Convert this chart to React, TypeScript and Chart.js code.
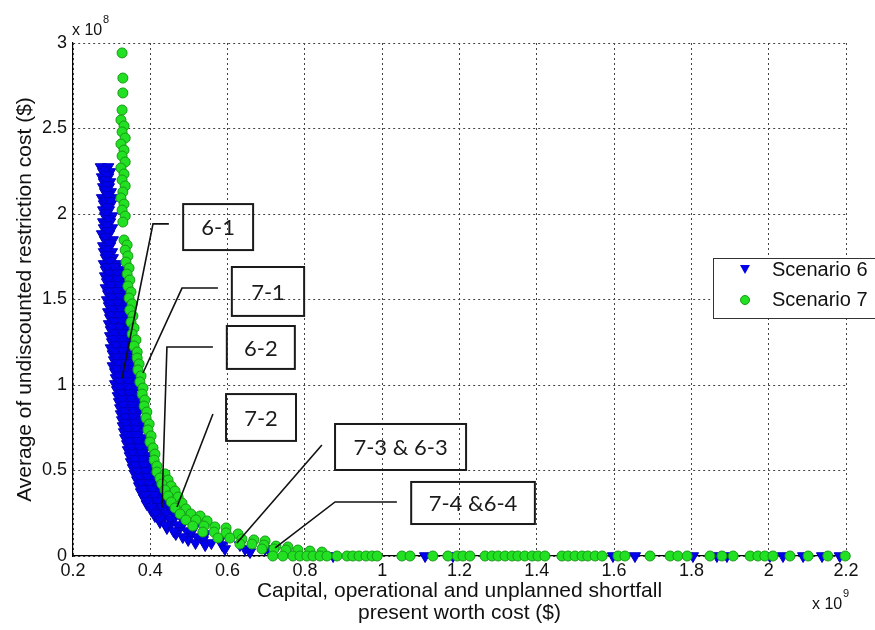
import React, { useEffect, useRef } from 'react';
import { Chart, registerables } from 'chart.js';

Chart.register(...registerables);

// Axis ticks (x in units of 1e9 $, y in units of 1e8 $)
const xTickValues = [0.2, 0.4, 0.6, 0.8, 1, 1.2, 1.4, 1.6, 1.8, 2, 2.2];
const yTickValues = [0, 0.5, 1, 1.5, 2, 2.5, 3];

// Scenario 6 – trade-off curve points [x, y]
const scenario6Curve: [number, number][] = [
  [0.272, 2.275], [0.291, 2.275], [0.278, 2.246], [0.296, 2.246], [0.275, 2.216], [0.291, 2.216],
  [0.28, 2.187], [0.296, 2.187], [0.278, 2.158], [0.293, 2.158], [0.283, 2.129], [0.298, 2.129],
  [0.275, 2.094], [0.291, 2.094], [0.301, 2.094], [0.28, 2.058], [0.298, 2.058], [0.278, 2.023],
  [0.293, 2.023], [0.283, 1.988], [0.301, 1.988], [0.278, 1.953], [0.296, 1.953], [0.28, 1.918],
  [0.301, 1.918], [0.275, 1.883], [0.293, 1.883], [0.283, 1.848], [0.303, 1.848], [0.278, 1.813],
  [0.296, 1.813], [0.28, 1.778], [0.301, 1.778], [0.285, 1.743], [0.303, 1.743],
  [0.28, 1.708], [0.298, 1.708], [0.316, 1.708], [0.285, 1.673], [0.306, 1.673], [0.324, 1.673],
  [0.283, 1.637], [0.301, 1.637], [0.327, 1.637], [0.288, 1.602], [0.309, 1.602], [0.329, 1.602],
  [0.285, 1.567], [0.303, 1.567], [0.324, 1.567], [0.291, 1.532], [0.311, 1.532], [0.332, 1.532],
  [0.288, 1.497], [0.306, 1.497], [0.327, 1.497], [0.293, 1.462], [0.314, 1.462], [0.332, 1.462],
  [0.291, 1.427], [0.309, 1.427], [0.329, 1.427], [0.296, 1.392], [0.316, 1.392], [0.335, 1.392],
  [0.293, 1.357], [0.311, 1.357], [0.332, 1.357], [0.298, 1.322], [0.319, 1.322], [0.337, 1.322],
  [0.296, 1.287], [0.316, 1.287], [0.34, 1.287], [0.301, 1.251], [0.322, 1.251], [0.342, 1.251],
  [0.298, 1.216], [0.319, 1.216], [0.34, 1.216], [0.303, 1.181], [0.324, 1.181], [0.345, 1.181],
  [0.306, 1.146], [0.327, 1.146], [0.347, 1.146], [0.303, 1.111], [0.324, 1.111], [0.347, 1.111],
  [0.309, 1.076], [0.329, 1.076], [0.35, 1.076], [0.311, 1.041], [0.332, 1.041], [0.353, 1.041],
  [0.309, 1.006], [0.332, 1.006], [0.355, 1.006], [0.314, 0.971], [0.337, 0.971], [0.358, 0.971],
  [0.316, 0.936], [0.34, 0.936], [0.36, 0.936], [0.319, 0.901], [0.342, 0.901], [0.366, 0.901],
  [0.322, 0.865], [0.345, 0.865], [0.368, 0.865], [0.324, 0.83], [0.347, 0.83], [0.366, 0.83],
  [0.327, 0.795], [0.35, 0.795], [0.371, 0.795], [0.329, 0.76], [0.353, 0.76], [0.373, 0.76],
  [0.332, 0.725], [0.355, 0.725], [0.373, 0.725], [0.335, 0.69], [0.358, 0.69], [0.379, 0.69],
  [0.34, 0.655], [0.363, 0.655], [0.381, 0.655], [0.342, 0.62], [0.366, 0.62], [0.386, 0.62],
  [0.347, 0.585], [0.371, 0.585], [0.389, 0.585], [0.35, 0.55], [0.373, 0.55], [0.394, 0.55],
  [0.355, 0.515], [0.379, 0.515], [0.397, 0.515], [0.36, 0.48], [0.384, 0.48], [0.402, 0.48],
  [0.366, 0.444], [0.389, 0.444], [0.407, 0.444], [0.371, 0.409], [0.394, 0.409], [0.415, 0.409],
  [0.376, 0.374], [0.399, 0.374], [0.422, 0.374], [0.384, 0.339], [0.407, 0.339], [0.43, 0.339],
  [0.391, 0.304], [0.417, 0.304], [0.443, 0.304], [0.402, 0.269], [0.427, 0.269], [0.456, 0.269],
  [0.412, 0.234], [0.438, 0.234], [0.464, 0.234],
  [0.425, 0.199], [0.456, 0.199], [0.487, 0.199],
  [0.443, 0.164], [0.477, 0.164], [0.513, 0.164],
  [0.466, 0.129], [0.503, 0.129], [0.542, 0.129],
  [0.498, 0.094], [0.536, 0.094], [0.58, 0.094],
  [0.542, 0.064], [0.586, 0.064], [0.632, 0.064],
  [0.593, 0.041], [0.645, 0.041], [0.697, 0.041],
  [0.658, 0.023], [0.71, 0.023],
];
// Scenario 6 – further solutions inside the dense band [x, y]
const scenario6Band: [number, number][] = [
  [0.283, 2.257], [0.287, 2.228], [0.285, 2.199], [0.288, 2.17], [0.286, 2.14], [0.29, 2.111],
  [0.285, 2.076], [0.296, 2.076], [0.289, 2.041], [0.286, 2.006], [0.292, 1.971], [0.287, 1.936],
  [0.29, 1.901], [0.284, 1.865], [0.293, 1.83], [0.287, 1.795], [0.29, 1.76], [0.294, 1.725],
  [0.289, 1.69], [0.307, 1.69], [0.295, 1.655], [0.315, 1.655], [0.292, 1.62], [0.314, 1.62],
  [0.298, 1.585], [0.319, 1.585], [0.294, 1.55], [0.313, 1.55], [0.301, 1.515], [0.321, 1.515],
  [0.297, 1.48], [0.316, 1.48], [0.303, 1.444], [0.323, 1.444], [0.3, 1.409], [0.319, 1.409],
  [0.306, 1.374], [0.325, 1.374], [0.302, 1.339], [0.321, 1.339], [0.308, 1.304], [0.328, 1.304],
  [0.306, 1.269], [0.328, 1.269], [0.311, 1.234], [0.332, 1.234], [0.308, 1.199], [0.329, 1.199],
  [0.313, 1.164], [0.334, 1.164], [0.316, 1.129], [0.337, 1.129], [0.313, 1.094], [0.335, 1.094],
  [0.319, 1.058], [0.339, 1.058], [0.321, 1.023], [0.342, 1.023], [0.32, 0.988], [0.343, 0.988],
  [0.325, 0.953], [0.347, 0.953], [0.328, 0.918], [0.35, 0.918], [0.33, 0.883], [0.354, 0.883],
  [0.333, 0.848], [0.356, 0.848], [0.335, 0.813], [0.356, 0.813], [0.338, 0.778], [0.36, 0.778],
  [0.341, 0.743], [0.363, 0.743], [0.343, 0.708], [0.364, 0.708], [0.346, 0.673], [0.368, 0.673],
  [0.351, 0.637], [0.372, 0.637], [0.354, 0.602], [0.376, 0.602], [0.359, 0.567], [0.38, 0.567],
  [0.361, 0.532], [0.383, 0.532], [0.367, 0.497], [0.388, 0.497], [0.372, 0.462], [0.393, 0.462],
  [0.377, 0.427], [0.398, 0.427], [0.382, 0.392], [0.404, 0.392], [0.387, 0.357], [0.41, 0.357],
  [0.395, 0.322], [0.418, 0.322], [0.404, 0.287], [0.43, 0.287], [0.414, 0.251], [0.441, 0.251],
  [0.425, 0.216], [0.451, 0.216], [0.44, 0.181], [0.471, 0.181], [0.46, 0.146], [0.495, 0.146],
  [0.484, 0.111], [0.522, 0.111], [0.517, 0.076], [0.558, 0.076],
];
// Scenario 6 – solutions lying on the zero-restriction axis (x values)
const scenario6Axis: number[] = [0.873, 1.111, 1.183, 1.597, 1.654, 1.804, 1.866, 1.892, 2.003, 2.037, 2.089, 2.138, 2.184];

// Scenario 7 – trade-off curve points [x, y]
const scenario7Curve: [number, number][] = [
  [0.327, 2.942], [0.329, 2.795], [0.329, 2.708], [0.327, 2.608],
  [0.324, 2.55], [0.332, 2.515], [0.327, 2.48], [0.335, 2.444], [0.324, 2.409], [0.332, 2.374],
  [0.327, 2.339], [0.335, 2.304], [0.324, 2.269], [0.332, 2.234], [0.327, 2.199], [0.335, 2.164],
  [0.329, 2.129], [0.324, 2.094], [0.332, 2.058], [0.327, 2.023], [0.335, 1.988], [0.329, 1.953],
  [0.332, 1.848], [0.34, 1.819], [0.335, 1.789], [0.342, 1.754], [0.337, 1.719], [0.345, 1.684],
  [0.34, 1.649], [0.347, 1.614], [0.342, 1.579], [0.35, 1.544], [0.345, 1.509], [0.353, 1.474],
  [0.347, 1.439], [0.355, 1.404], [0.35, 1.368], [0.358, 1.333], [0.353, 1.298], [0.363, 1.263],
  [0.358, 1.228], [0.366, 1.193], [0.366, 1.158], [0.371, 1.123], [0.368, 1.088], [0.376, 1.053],
  [0.373, 1.018], [0.381, 0.982], [0.379, 0.947], [0.386, 0.912], [0.384, 0.877], [0.391, 0.842],
  [0.389, 0.807], [0.397, 0.772], [0.394, 0.737], [0.402, 0.702], [0.399, 0.667], [0.407, 0.632],
  [0.412, 0.596], [0.41, 0.561], [0.417, 0.526],
  [0.417, 0.491], [0.438, 0.48], [0.425, 0.456], [0.446, 0.444], [0.43, 0.421], [0.454, 0.409],
  [0.438, 0.386], [0.464, 0.38], [0.446, 0.351], [0.472, 0.345], [0.454, 0.316], [0.482, 0.31],
  [0.464, 0.281], [0.492, 0.275], [0.477, 0.246], [0.505, 0.246], [0.529, 0.234],
  [0.492, 0.211], [0.518, 0.211], [0.547, 0.205],
  [0.51, 0.175], [0.539, 0.175], [0.567, 0.17], [0.596, 0.164],
  [0.536, 0.14], [0.565, 0.14], [0.596, 0.135], [0.627, 0.129],
  [0.575, 0.105], [0.606, 0.105], [0.637, 0.099], [0.668, 0.094], [0.697, 0.088],
  [0.632, 0.07], [0.663, 0.07], [0.694, 0.064], [0.725, 0.058], [0.756, 0.053],
  [0.689, 0.041], [0.72, 0.041], [0.751, 0.035], [0.782, 0.035], [0.813, 0.029], [0.844, 0.023],
];
// Scenario 7 – solutions lying on the zero-restriction axis (x values)
const scenario7Axis: number[] = [
  0.717, 0.743, 0.769, 0.787, 0.805, 0.821, 0.839, 0.857, 0.883, 0.909, 0.924, 0.94, 0.958, 0.974,
  0.987, 1.051, 1.072, 1.131, 1.17, 1.194, 1.209, 1.227, 1.266, 1.284, 1.3, 1.318, 1.336, 1.351,
  1.369, 1.388, 1.403, 1.421, 1.465, 1.481, 1.499, 1.517, 1.532, 1.551, 1.569, 1.61, 1.628, 1.693,
  1.745, 1.765, 1.789, 1.848, 1.879, 1.908, 1.952, 1.972, 1.99, 2.011, 2.055, 2.102, 2.153, 2.198,
];

// Callout labels
const calloutLabels = ['6-1', '7-1', '6-2', '7-2', '7-3 & 6-3', '7-4 &6-4'];
// Callout boxes [xMin, xMax, yMin, yMax] in data units
const calloutBoxes: number[][] = [
  [0.485, 0.666, 1.789, 2.058],
  [0.611, 0.798, 1.404, 1.69],
  [0.598, 0.774, 1.094, 1.345],
  [0.596, 0.777, 0.673, 0.947],
  [0.878, 1.217, 0.503, 0.772],
  [1.075, 1.395, 0.187, 0.433],
];
// Callout leader lines in data units
const calloutLeaders: [number, number][][] = [
  [[0.448, 1.942], [0.407, 1.942], [0.327, 1.041]],
  [[0.575, 1.567], [0.482, 1.567], [0.381, 1.07]],
  [[0.562, 1.222], [0.443, 1.222], [0.43, 0.281]],
  [[0.562, 0.83], [0.469, 0.287]],
  [[0.844, 0.649], [0.624, 0.076]],
  [[1.038, 0.316], [0.878, 0.316], [0.723, 0.047]],
];

const seriesNames = ['Scenario 6', 'Scenario 7'];
const BLUE = '#0000ee';
const BLUE_EDGE = '#0000c0';
const GREEN = '#22e022';
const GREEN_EDGE = '#179a17';

const AXIS_FONT = '"Liberation Sans", Arial, sans-serif';

const fmt = (v: number) => String(+Number(v).toFixed(1));

const overlayPlugin = {
  id: 'overlay',
  afterDatasetsDraw(chart: any) {
    const { ctx, scales } = chart;
    const xs = scales.x;
    const ys = scales.y;
    ctx.save();
    ctx.lineJoin = 'miter';
    calloutLabels.forEach((label, i) => {
      const pts = calloutLeaders[i];
      ctx.strokeStyle = '#111';
      ctx.lineWidth = 1.6;
      ctx.beginPath();
      pts.forEach(([lx, ly], k) => {
        const px = xs.getPixelForValue(lx);
        const py = ys.getPixelForValue(ly);
        if (k === 0) ctx.moveTo(px, py);
        else ctx.lineTo(px, py);
      });
      ctx.stroke();
      const [x0, x1, y0, y1] = calloutBoxes[i];
      const l = xs.getPixelForValue(x0);
      const r = xs.getPixelForValue(x1);
      const t = ys.getPixelForValue(y1);
      const b = ys.getPixelForValue(y0);
      ctx.lineWidth = 2;
      ctx.strokeStyle = '#1a1a1a';
      ctx.strokeRect(l, t, r - l, b - t);
      ctx.fillStyle = '#1a1a1a';
      ctx.font = '22px Lato, "Open Sans", sans-serif';
      ctx.textAlign = 'center';
      ctx.textBaseline = 'middle';
      ctx.fillText(label, (l + r) / 2, (t + b) / 2 + 1);
    });
    ctx.restore();
  },
  afterDraw(chart: any) {
    const { ctx, chartArea } = chart;
    const cx = (chartArea.left + chartArea.right) / 2;
    const cy = (chartArea.top + chartArea.bottom) / 2;
    ctx.save();
    ctx.fillStyle = '#111';
    // Y title
    ctx.save();
    ctx.translate(chartArea.left - 48, cy);
    ctx.rotate(-Math.PI / 2);
    ctx.font = `21px ${AXIS_FONT}`;
    ctx.textAlign = 'center';
    ctx.textBaseline = 'middle';
    ctx.fillText('Average of undiscounted restriction cost ($)', 0, 0);
    ctx.restore();
    // X title
    ctx.font = `21px ${AXIS_FONT}`;
    ctx.textAlign = 'center';
    ctx.textBaseline = 'middle';
    ctx.fillText('Capital, operational and unplanned shortfall', cx, chartArea.bottom + 35);
    ctx.fillText('present worth cost ($)', cx, chartArea.bottom + 57);
    // Exponent labels
    ctx.textAlign = 'left';
    ctx.font = `16px ${AXIS_FONT}`;
    ctx.fillText('x 10', chartArea.left - 1, chartArea.top - 12);
    ctx.fillText('x 10', chartArea.right - 34, chartArea.bottom + 49);
    ctx.font = `11px ${AXIS_FONT}`;
    ctx.fillText('8', chartArea.left + 30, chartArea.top - 23);
    ctx.fillText('9', chartArea.right - 3, chartArea.bottom + 38);

    // Legend
    const lx = 713;
    const ly = 258;
    ctx.fillStyle = '#ffffff';
    ctx.fillRect(lx, ly, 180, 60);
    ctx.strokeStyle = '#333';
    ctx.lineWidth = 1;
    ctx.strokeRect(lx + 0.5, ly + 0.5, 180, 60);
    ctx.fillStyle = BLUE;
    ctx.beginPath();
    ctx.moveTo(lx + 27, ly + 7);
    ctx.lineTo(lx + 37, ly + 7);
    ctx.lineTo(lx + 32, ly + 16);
    ctx.closePath();
    ctx.fill();
    ctx.fillStyle = GREEN;
    ctx.strokeStyle = GREEN_EDGE;
    ctx.beginPath();
    ctx.arc(lx + 32, ly + 42, 4.5, 0, Math.PI * 2);
    ctx.fill();
    ctx.stroke();
    ctx.fillStyle = '#111';
    ctx.font = '20px "Liberation Sans", Arial, sans-serif';
    ctx.textAlign = 'left';
    ctx.textBaseline = 'middle';
    ctx.fillText(seriesNames[0], lx + 59, ly + 12);
    ctx.fillText(seriesNames[1], lx + 59, ly + 42);
    ctx.restore();
  },
};

export default function App() {
  const canvasRef = useRef<HTMLCanvasElement | null>(null);

  useEffect(() => {
    const canvas = canvasRef.current;
    if (!canvas) return;
    const s6 = [
      ...scenario6Curve.map(([x, y]) => ({ x, y })),
      ...scenario6Band.map(([x, y]) => ({ x, y })),
      ...scenario6Axis.map((x) => ({ x, y: 0 })),
    ];
    const s7 = [
      ...scenario7Curve.map(([x, y]) => ({ x, y })),
      ...scenario7Axis.map((x) => ({ x, y: 0 })),
    ];
    const chart = new Chart(canvas, {
      type: 'scatter',
      data: {
        datasets: [
          {
            label: seriesNames[0],
            data: s6,
            pointStyle: 'triangle',
            rotation: 180,
            pointRadius: 6.5,
            backgroundColor: BLUE,
            borderColor: BLUE_EDGE,
            borderWidth: 1,
            order: 2,
            clip: false,
          } as any,
          {
            label: seriesNames[1],
            data: s7,
            pointStyle: 'circle',
            pointRadius: 5,
            backgroundColor: GREEN,
            borderColor: GREEN_EDGE,
            borderWidth: 1,
            order: 1,
            clip: false,
          } as any,
        ],
      },
      options: {
        responsive: false,
        animation: false,
        devicePixelRatio: 1,
        layout: { padding: { top: 43, right: 29, left: 0, bottom: 0 } },
        plugins: {
          legend: { display: false },
          tooltip: { enabled: false },
          title: { display: false },
        },
        scales: {
          x: {
            type: 'linear',
            min: 0.2,
            max: 2.2,
            afterBuildTicks: (scale: any) => {
              scale.ticks = xTickValues.map((v) => ({ value: v }));
            },
            afterFit: (scale: any) => {
              scale.height = 74;
            },
            ticks: {
              padding: 4,
              color: '#111',
              font: { family: AXIS_FONT, size: 18 },
              maxRotation: 0,
              autoSkip: false,
              callback: (v: any) => fmt(v),
            },
            grid: { color: '#444', lineWidth: 1, drawTicks: false },
            border: { display: true, color: '#000', width: 1.2, dash: [2, 3] },
          },
          y: {
            type: 'linear',
            min: 0,
            max: 3,
            afterBuildTicks: (scale: any) => {
              scale.ticks = yTickValues.map((v) => ({ value: v }));
            },
            afterFit: (scale: any) => {
              scale.width = 73;
            },
            ticks: {
              padding: 6,
              color: '#111',
              font: { family: AXIS_FONT, size: 18 },
              autoSkip: false,
              callback: (v: any) => fmt(v),
            },
            grid: { color: '#444', lineWidth: 1, drawTicks: false },
            border: { display: true, color: '#000', width: 1.2, dash: [2, 3] },
          },
        },
      } as any,
      plugins: [overlayPlugin],
    });
    return () => chart.destroy();
  }, []);

  return (
    <div style={{ position: 'fixed', left: 0, top: 0, width: 875, height: 630, background: '#fff' }}>
      <canvas ref={canvasRef} width={875} height={630} style={{ width: 875, height: 630 }} />
    </div>
  );
}
